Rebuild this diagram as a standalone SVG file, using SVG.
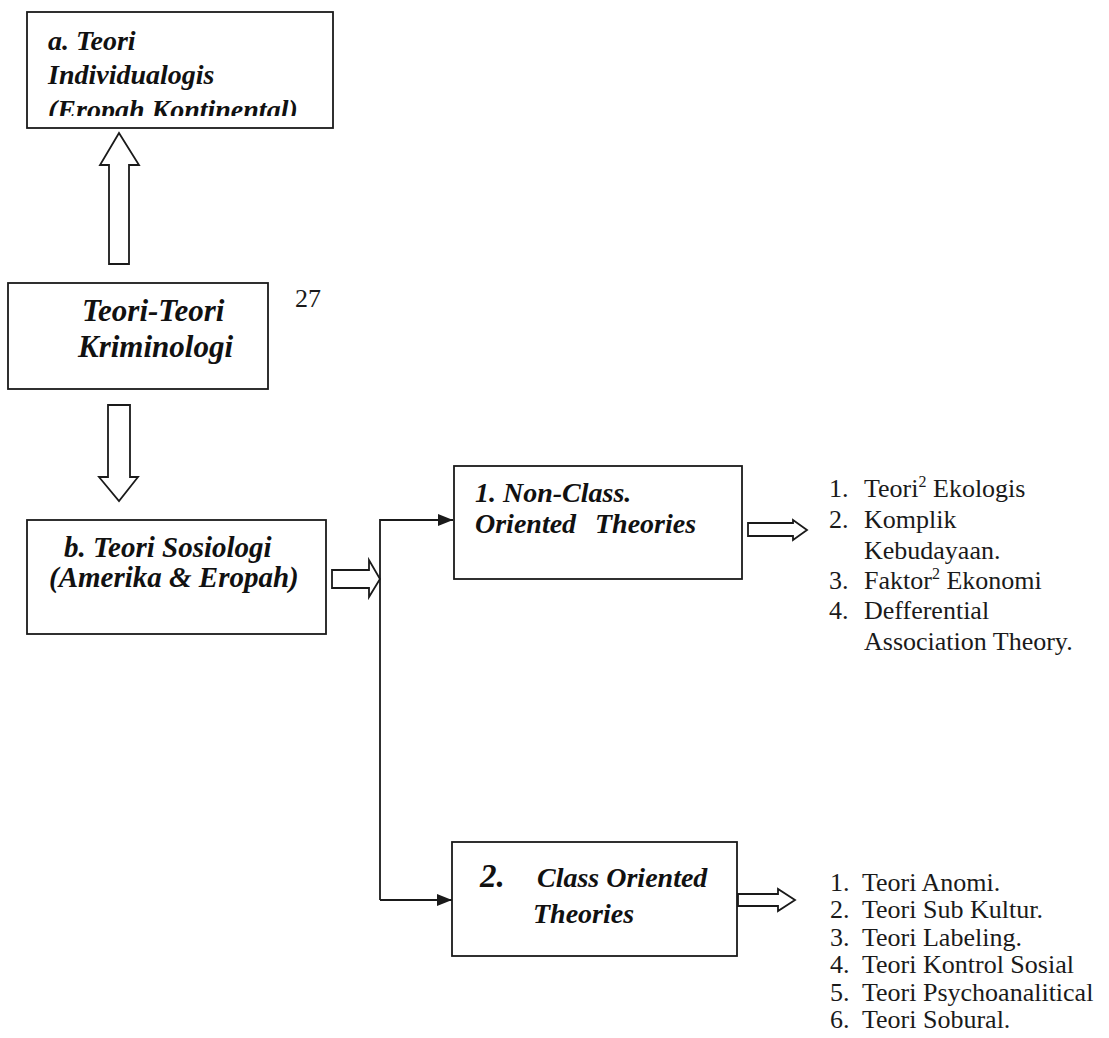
<svg xmlns="http://www.w3.org/2000/svg" width="1109" height="1038" viewBox="0 0 1109 1038">
  <style>
    .box { fill: #ffffff; stroke: #1a1a1a; stroke-width: 1.8; }
    .title { font-family: "Liberation Serif", "Times New Roman", serif; font-weight: bold; font-style: italic; fill: #111111; }
    .item { font-family: "Liberation Serif", "Times New Roman", serif; font-size: 26px; fill: #1a1a1a; }
    .block { fill: #ffffff; stroke: #1a1a1a; stroke-width: 1.8; stroke-linejoin: miter; }
    .line { fill: none; stroke: #1a1a1a; stroke-width: 1.8; }
  </style>
  <defs>
    <marker id="tri" viewBox="0 0 15 12" refX="15" refY="6" markerWidth="15" markerHeight="12" markerUnits="userSpaceOnUse" orient="auto">
      <path d="M0,0 L15,6 L0,12 Z" fill="#1a1a1a"/>
    </marker>
    <clipPath id="clipA">
      <rect x="27" y="12" width="306" height="104"/>
    </clipPath>
  </defs>

  <rect width="1109" height="1038" fill="#ffffff"/>

  <!-- connectors: hollow block arrows and the branching line -->
  <g id="connectors">
    <path class="block" d="M119,133 L139,165 L129,165 L129,264 L109,264 L109,165 L100,165 Z"/>
    <path class="block" d="M108,405 L130,405 L130,477 L138,477 L119,501 L99,477 L108,477 Z"/>
    <path class="block" d="M332,570 L369,570 L369,560 L380,579 L369,597 L369,588 L332,588 Z"/>
    <path class="line" d="M380,900 L380,520 L453,520" marker-end="url(#tri)"/>
    <path class="line" d="M380,900 L452,900" marker-end="url(#tri)"/>
    <path class="block" d="M748,523 L793,523 L793,520 L807,530 L793,540 L793,536 L748,536 Z"/>
    <path class="block" d="M738,894 L778,894 L778,889 L795,900 L778,911 L778,906 L738,906 Z"/>
  </g>

  <!-- a. individual theory -->
  <g id="node-individualogis">
    <rect class="box" x="27" y="12" width="306" height="116"/>
    <g clip-path="url(#clipA)">
      <text class="title" font-size="28" x="48" y="50">a. Teori</text>
      <text class="title" font-size="28" x="48" y="84">Individualogis</text>
      <text class="title" font-size="28" x="48" y="119">(Eropah Kontinental)</text>
    </g>
  </g>

  <!-- root node -->
  <g id="node-kriminologi">
    <rect class="box" x="8" y="283" width="260" height="106"/>
    <text class="title" font-size="31" x="82" y="321">Teori-Teori</text>
    <text class="title" font-size="31" x="78" y="357">Kriminologi</text>
  </g>

  <g id="page-number">
    <text class="item" font-size="20" x="295" y="307">27</text>
  </g>

  <!-- b. sociological theory -->
  <g id="node-sosiologi">
    <rect class="box" x="27" y="520" width="299" height="114"/>
    <text class="title" font-size="29" x="64" y="557">b. Teori Sosiologi</text>
    <text class="title" font-size="29" x="49" y="587">(Amerika &amp; Eropah)</text>
  </g>

  <!-- 1. non-class oriented -->
  <g id="node-nonclass">
    <rect class="box" x="454" y="466" width="288" height="113"/>
    <text class="title" font-size="28" x="475" y="502">1. Non-Class.</text>
    <text class="title" font-size="28" x="475" y="533">Oriented</text>
    <text class="title" font-size="28" x="595" y="533">Theories</text>
  </g>

  <!-- 2. class oriented -->
  <g id="node-class">
    <rect class="box" x="452" y="842" width="285" height="114"/>
    <text class="title" font-size="33" x="480" y="887">2.</text>
    <text class="title" font-size="28" x="537" y="887">Class Oriented</text>
    <text class="title" font-size="28" x="533" y="923">Theories</text>
  </g>

  <!-- list for non-class oriented theories -->
  <g id="list-nonclass">
    <text class="item" x="829" y="497">1.</text>
    <text class="item" x="864" y="497">Teori<tspan font-size="16" dy="-10">2</tspan><tspan dy="10"> Ekologis</tspan></text>
    <text class="item" x="829" y="528">2.</text>
    <text class="item" x="864" y="528">Komplik</text>
    <text class="item" x="864" y="559">Kebudayaan.</text>
    <text class="item" x="829" y="589">3.</text>
    <text class="item" x="864" y="589">Faktor<tspan font-size="16" dy="-10">2</tspan><tspan dy="10"> Ekonomi</tspan></text>
    <text class="item" x="829" y="619">4.</text>
    <text class="item" x="864" y="619">Defferential</text>
    <text class="item" x="864" y="650">Association Theory.</text>
  </g>

  <!-- list for class oriented theories -->
  <g id="list-class">
    <text class="item" x="830" y="891">1.</text>
    <text class="item" x="862" y="891">Teori Anomi.</text>
    <text class="item" x="830" y="918">2.</text>
    <text class="item" x="862" y="918">Teori Sub Kultur.</text>
    <text class="item" x="830" y="946">3.</text>
    <text class="item" x="862" y="946">Teori Labeling.</text>
    <text class="item" x="830" y="973">4.</text>
    <text class="item" x="862" y="973">Teori Kontrol Sosial</text>
    <text class="item" x="830" y="1001">5.</text>
    <text class="item" x="862" y="1001">Teori Psychoanalitical</text>
    <text class="item" x="830" y="1028">6.</text>
    <text class="item" x="862" y="1028">Teori Sobural.</text>
  </g>
</svg>
